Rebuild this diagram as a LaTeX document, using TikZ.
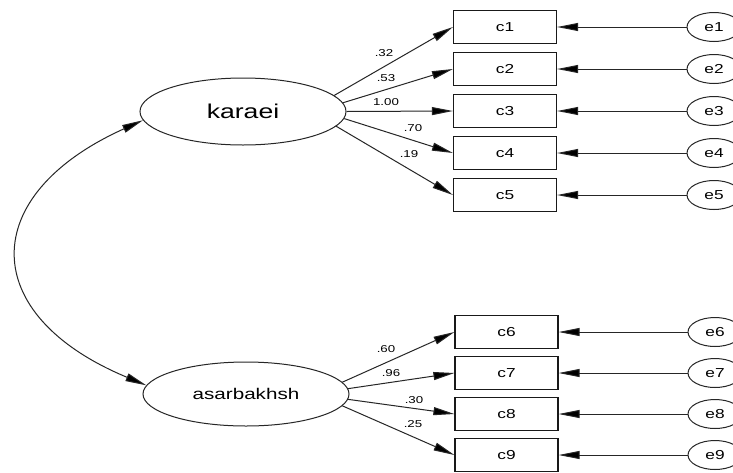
\documentclass[tikz,border=0pt]{standalone}
\usepackage{fontspec}
\setmainfont{Liberation Sans}[FakeStretch=1.33]
\usetikzlibrary{shapes.geometric,arrows.meta}
\tikzset{
  obs/.style={draw=black!90, line width=1.2pt, minimum width=103pt, minimum height=33pt, inner sep=0pt, font=\fontsize{13}{15}\selectfont},
  lat/.style={draw=black!85, line width=1pt, ellipse, minimum width=206pt, inner sep=0pt},
  err/.style={draw=black!85, line width=1pt, ellipse, minimum width=54pt, minimum height=29pt, inner sep=0pt, font=\fontsize{13}{15}\selectfont},
  path/.style={draw=black!85, line width=1pt, -{Triangle[length=21pt,width=8pt,fill=black]}},
  cov/.style={draw=black!85, line width=1pt, {Triangle[length=21pt,width=8pt,fill=black]}-{Triangle[length=21pt,width=8pt,fill=black]}},
  lbl/.style={font=\fontsize{10}{12}\selectfont, inner sep=0pt}
}
\begin{document}
\begin{tikzpicture}[x=1pt,y=-1pt]
\path[use as bounding box, clip] (0,0) rectangle (733,472);
\fill[white] (0,0) rectangle (733,472);
% latent
\node[lat, minimum height=67pt, font=\fontsize{20}{24}\selectfont] (kar) at (243,111.5) {karaei};
\node[lat, minimum height=64pt, font=\fontsize{15.5}{18}\selectfont] (asa) at (246,394) {asarbakhsh};
% observed
\node[obs] (c1) at (505,27) {c1};
\node[obs] (c2) at (505,69) {c2};
\node[obs] (c3) at (505,111) {c3};
\node[obs] (c4) at (505,153) {c4};
\node[obs] (c5) at (505,195) {c5};
\node[obs] (c6) at (506.5,332) {c6};
\node[obs] (c7) at (506.5,373) {c7};
\node[obs] (c8) at (506.5,414) {c8};
\node[obs] (c9) at (506.5,455) {c9};
% errors
\node[err] (e1) at (714,27) {e1};
\node[err] (e2) at (714,69) {e2};
\node[err] (e3) at (714,111) {e3};
\node[err] (e4) at (714,153) {e4};
\node[err] (e5) at (714,195) {e5};
\node[err] (e6) at (715,332) {e6};
\node[err] (e7) at (715,373) {e7};
\node[err] (e8) at (715,414) {e8};
\node[err] (e9) at (715,455) {e9};
% loadings
\draw[path] (kar.10) -- (c1.west);
\draw[path] (kar.5.4) -- (c2.west);
\draw[path] (kar.0) -- (c3.west);
\draw[path] (kar.-4.2) -- (c4.west);
\draw[path] (kar.-9.2) -- (c5.west);
\draw[path] (asa.7) -- (c6.west);
\draw[path] (asa.3.4) -- (c7.west);
\draw[path] (asa.-3.3) -- (c8.west);
\draw[path] (asa.-7.6) -- (c9.west);
\foreach \i in {1,...,9} {\draw[path] (e\i.west) -- (c\i.east);}
% covariance
\draw[cov] (kar.185.4) .. controls (-23,195) and (-23,315) .. (asa.175.4);
% labels
\node[lbl] (l1) at (384,53) {.32};
\node[lbl] (l2) at (386,78) {.53};
\node[lbl] (l3) at (386,102) {1.00};
\node[lbl] (l4) at (413,128) {.70};
\node[lbl] (l5) at (409,154) {.19};
\node[lbl] (l6) at (386,349) {.60};
\node[lbl] (l7) at (391,373) {.96};
\node[lbl] (l8) at (414,400) {.30};
\node[lbl] (l9) at (413,424) {.25};
\end{tikzpicture}
\end{document}
